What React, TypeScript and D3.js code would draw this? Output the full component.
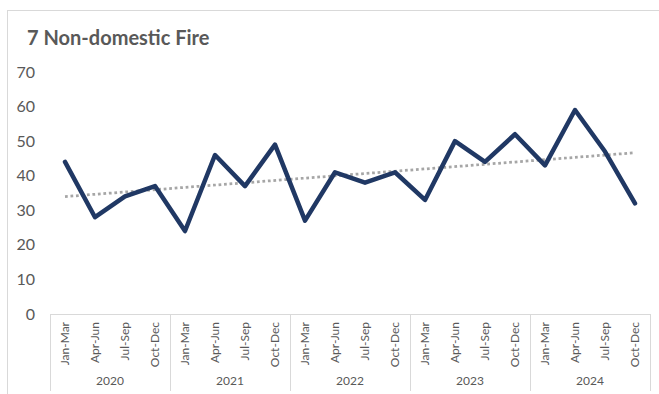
import React from "react";
import * as d3 from "d3";

const years = ["2020", "2021", "2022", "2023", "2024"];
const quarters = ["Jan-Mar", "Apr-Jun", "Jul-Sep", "Oct-Dec"];
const values = [44, 28, 34, 37, 24, 46, 37, 49, 27, 41, 38, 41, 33, 50, 44, 52, 43, 59, 47, 32];
const yTicks = [0, 10, 20, 30, 40, 50, 60, 70];
const title = "7 Non-domestic Fire";

const W = 659;
const H = 394;
const left = 50;
const right = 650;
const top = 72;
const bottom = 314;

export default function App() {
  const n = values.length;
  const x = d3.scaleBand<number>().domain(d3.range(n)).range([left, right]).paddingInner(0).paddingOuter(0);
  const cx = (i: number) => (x(i) as number) + x.bandwidth() / 2;
  const y = d3.scaleLinear().domain([0, 70]).range([bottom, top]);

  const line = d3.line<number>().x((_, i) => cx(i)).y((d) => y(d));

  // linear regression trend
  const xs = d3.range(n);
  const mx = d3.mean(xs) as number;
  const my = d3.mean(values) as number;
  const sxy = d3.sum(xs, (i) => (i - mx) * (values[i] - my));
  const sxx = d3.sum(xs, (i) => (i - mx) * (i - mx));
  const slope = sxy / sxx;
  const icpt = my - slope * mx;
  const trend = [0, n - 1].map((i) => [cx(i), y(icpt + slope * i)] as [number, number]);

  const font = "Lato, 'Open Sans', sans-serif";
  const grey = "#595959";
  const axisCol = "#d9d9d9";

  const groupBounds = d3.range(years.length + 1).map((g) => left + g * 4 * x.bandwidth());

  return (
    <svg width={W} height={H} style={{ position: "absolute", left: 0, top: 0 }} fontFamily={font}>
      <rect x={7.5} y={10.5} width={720} height={500} fill="white" stroke={axisCol} strokeWidth={1} />
      <text x={27} y={45} fontSize={20} fontWeight={700} fill={grey}>{title}</text>
      {yTicks.map((t) => (
        <text key={t} x={35} y={y(t)} dy="0.35em" textAnchor="end" fontSize={16} fill={grey}>{t}</text>
      ))}
      <line x1={left} x2={right} y1={bottom + 0.5} y2={bottom + 0.5} stroke={axisCol} strokeWidth={1} />
      {groupBounds.map((gx, i) => (
        <line key={i} x1={gx + 0.5} x2={gx + 0.5} y1={bottom} y2={391} stroke={axisCol} strokeWidth={1} />
      ))}
      {values.map((_, i) => (
        <text key={i} transform={`translate(${cx(i) + 4},${322}) rotate(-90)`} textAnchor="end" fontSize={12} fill={grey}>
          {quarters[i % 4]}
        </text>
      ))}
      {years.map((yr, g) => (
        <text key={yr} x={(groupBounds[g] + groupBounds[g + 1]) / 2} y={385} textAnchor="middle" fontSize={12} fill={grey}>
          {yr}
        </text>
      ))}
      <line x1={trend[0][0]} y1={trend[0][1]} x2={trend[1][0]} y2={trend[1][1]} stroke="#a6a6a6" strokeWidth={2.75} strokeDasharray="2.75 2.75" />
      <path d={line(values) as string} fill="none" stroke="#203864" strokeWidth={4.5} strokeLinejoin="round" strokeLinecap="round" />
    </svg>
  );
}
